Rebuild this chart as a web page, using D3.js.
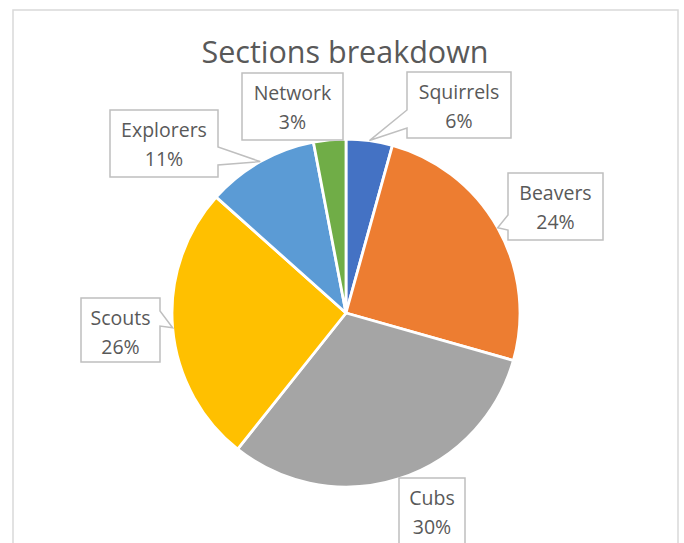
<!DOCTYPE html>
<html>
<head>
<meta charset="utf-8">
<script src="https://cdn.jsdelivr.net/npm/d3@7"></script>
<style>
  body { margin: 0; background: #fff; }
  svg { display: block; }
</style>
</head>
<body>
<svg id="chart" width="684" height="543" viewBox="0 0 684 543"></svg>
<script>
const sections = ["Squirrels", "Beavers", "Cubs", "Scouts", "Explorers", "Network"];
const shares = [4.3, 25.1, 31.3, 25.9, 10.4, 3.0];
const pctLabels = ["6%", "24%", "30%", "26%", "11%", "3%"];
const colors = ["#4472C4", "#ED7D31", "#A5A5A5", "#FFC000", "#5B9BD5", "#70AD47"];

// callout boxes: [x, y, w, h], wedge = [side, base start, base end] offsets on that side
const callouts = {
    Squirrels: { box: [407, 72, 104, 66], wedge: ["left", 38, 56] },
    Beavers:   { box: [508, 173, 95, 67], wedge: ["left", 42, 57] },
    Cubs:      { box: [399, 478, 66, 66], wedge: null },
    Scouts:    { box: [81, 298, 79, 64], wedge: ["right", 13, 28] },
    Explorers: { box: [110, 110, 108, 67], wedge: ["right", 37, 55] },
    Network:   { box: [242, 73, 101, 67], wedge: null }
};

const svg = d3.select("#chart");
const cx = 346, cy = 313, radius = 174;

// chart frame (bottom edge is off-screen)
svg.append("path")
    .attr("d", "M13,560 L13,10 L678,10 L678,560")
    .attr("fill", "none")
    .attr("stroke", "#d9d9d9")
    .attr("stroke-width", 1.5);

svg.append("text")
    .attr("x", 345)
    .attr("y", 63)
    .attr("text-anchor", "middle")
    .style("font-family", "'Open Sans', 'Noto Sans', sans-serif")
    .style("font-size", "30.5px")
    .style("fill", "#595959")
    .text("Sections breakdown");

const data = sections.map((name, i) => ({ name: name, value: shares[i], pct: pctLabels[i], color: colors[i] }));

const pie = d3.pie()
    .value(d => d.value)
    .sort(null);

const arcs = pie(data);

const arc = d3.arc()
    .innerRadius(0)
    .outerRadius(radius);

const edgeArc = d3.arc()
    .innerRadius(radius)
    .outerRadius(radius);

const main_group = svg.append("g")
    .attr("transform", `translate(${cx},${cy})`);

main_group.selectAll(".slice")
    .data(arcs)
    .enter()
    .append("path")
    .attr("class", "slice")
    .attr("d", arc)
    .attr("fill", d => d.data.color)
    .attr("stroke", "#fff")
    .attr("stroke-width", 2.8)
    .attr("stroke-linejoin", "round");

function calloutPath(c, tip) {
    const [x, y, w, h] = c.box;
    if (!c.wedge) return `M${x},${y}H${x + w}V${y + h}H${x}Z`;
    const [side, b1, b2] = c.wedge;
    if (side === "left") {
        return `M${x},${y}H${x + w}V${y + h}H${x}V${y + b2}L${tip[0]},${tip[1]}L${x},${y + b1}Z`;
    }
    // right side
    return `M${x},${y}H${x + w}V${y + b1}L${tip[0]},${tip[1]}L${x + w},${y + b2}V${y + h}H${x}Z`;
}

const label_group = svg.append("g");

arcs.forEach(d => {
    const c = callouts[d.data.name];
    const p = edgeArc.centroid(d);
    const tip = [p[0] + cx, p[1] + cy];
    const [x, y, w] = c.box;

    label_group.append("path")
        .attr("d", calloutPath(c, tip))
        .attr("fill", "#fff")
        .attr("stroke", "#bfbfbf")
        .attr("stroke-width", 1.5);

    const t = label_group.append("text")
        .attr("text-anchor", "middle")
        .style("font-family", "'Open Sans', 'Noto Sans', sans-serif")
        .style("font-size", "19.5px")
        .style("fill", "#595959");

    t.append("tspan")
        .attr("x", x + w / 2)
        .attr("y", y + 27)
        .text(d.data.name);

    t.append("tspan")
        .attr("x", x + w / 2)
        .attr("y", y + 56)
        .text(d.data.pct);
});
</script>
</body>
</html>
